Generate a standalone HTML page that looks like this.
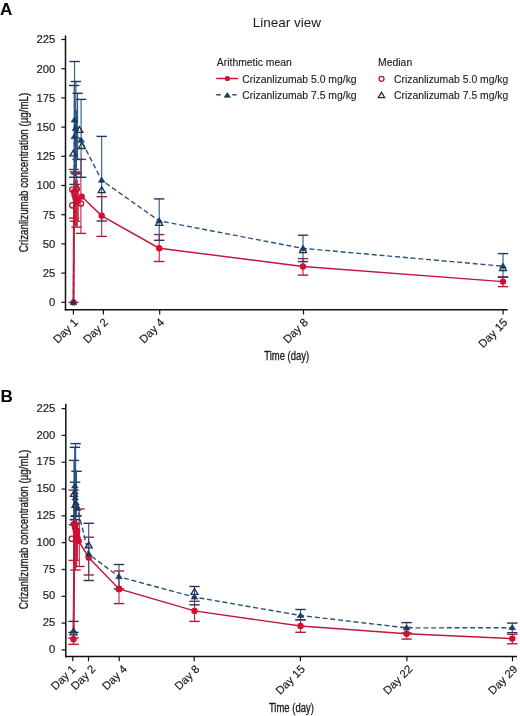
<!DOCTYPE html><html><head><meta charset="utf-8"><style>
html,body{margin:0;padding:0;background:#fff;width:520px;height:716px;overflow:hidden}
svg{display:block;will-change:transform}
text{font-family:"Liberation Sans",sans-serif;fill:#1c1a1b}
.tk{font-size:11.3px;stroke:#1c1a1b;stroke-width:0.18px}.lg{font-size:10.4px;stroke:#1c1a1b;stroke-width:0.12px}.ttl{font-size:13.5px}.pl{font-size:16px;font-weight:bold;fill:#000}
.cn{font-size:13px;stroke:#231f20;stroke-width:0.35px}
</style></head><body>
<svg width="520" height="716" viewBox="0 0 520 716">
<text transform="translate(0.1 15.0) scale(1.07 1)" class="pl">A</text>
<text transform="translate(0.6 401.7) scale(1.07 1)" class="pl">B</text>
<text x="286.9" y="27.1" text-anchor="middle" class="ttl">Linear view</text>
<text x="216.8" y="66.0" class="lg">Arithmetic mean</text>
<line x1="216.2" y1="78.5" x2="238.2" y2="78.5" stroke="#c0173a" stroke-width="1.5"/>
<circle cx="227.40" cy="78.50" r="2.6" fill="#d20f2f"/>
<text x="242.3" y="82.8" class="lg">Crizanlizumab 5.0 mg/kg</text>
<line x1="216.2" y1="94.8" x2="220.8" y2="94.8" stroke="#2b527e" stroke-width="1.5"/>
<line x1="232.2" y1="94.8" x2="236.6" y2="94.8" stroke="#2b527e" stroke-width="1.5"/>
<polygon points="227.30,92.46 230.44,97.30 224.17,97.30" fill="#173d66" stroke="#173d66" stroke-width="0.6" stroke-linejoin="round"/>
<text x="242.3" y="99.4" class="lg">Crizanlizumab 7.5 mg/kg</text>
<text x="378.1" y="66.0" class="lg">Median</text>
<circle cx="381.50" cy="78.80" r="2.5" fill="none" stroke="#a8183a" stroke-width="1.3"/>
<text x="394" y="82.8" class="lg">Crizanlizumab 5.0 mg/kg</text>
<polygon points="381.50,92.38 384.72,97.72 378.28,97.72" fill="none" stroke="#1c324a" stroke-width="1.3"/>
<text x="394" y="99.4" class="lg">Crizanlizumab 7.5 mg/kg</text>
<line x1="65.5" y1="35.5" x2="65.5" y2="310.45" stroke="#111" stroke-width="1.5"/><line x1="64.75" y1="309.7" x2="507.7" y2="309.7" stroke="#111" stroke-width="1.5"/><line x1="61.3" y1="302.30" x2="65.5" y2="302.30" stroke="#111" stroke-width="1.2"/><text x="55.4" y="306.20" text-anchor="end" class="tk">0</text><line x1="61.3" y1="273.10" x2="65.5" y2="273.10" stroke="#111" stroke-width="1.2"/><text x="55.4" y="277.00" text-anchor="end" class="tk">25</text><line x1="61.3" y1="243.90" x2="65.5" y2="243.90" stroke="#111" stroke-width="1.2"/><text x="55.4" y="247.80" text-anchor="end" class="tk">50</text><line x1="61.3" y1="214.70" x2="65.5" y2="214.70" stroke="#111" stroke-width="1.2"/><text x="55.4" y="218.60" text-anchor="end" class="tk">75</text><line x1="61.3" y1="185.50" x2="65.5" y2="185.50" stroke="#111" stroke-width="1.2"/><text x="55.4" y="189.40" text-anchor="end" class="tk">100</text><line x1="61.3" y1="156.30" x2="65.5" y2="156.30" stroke="#111" stroke-width="1.2"/><text x="55.4" y="160.20" text-anchor="end" class="tk">125</text><line x1="61.3" y1="127.10" x2="65.5" y2="127.10" stroke="#111" stroke-width="1.2"/><text x="55.4" y="131.00" text-anchor="end" class="tk">150</text><line x1="61.3" y1="97.90" x2="65.5" y2="97.90" stroke="#111" stroke-width="1.2"/><text x="55.4" y="101.80" text-anchor="end" class="tk">175</text><line x1="61.3" y1="68.70" x2="65.5" y2="68.70" stroke="#111" stroke-width="1.2"/><text x="55.4" y="72.60" text-anchor="end" class="tk">200</text><line x1="61.3" y1="39.50" x2="65.5" y2="39.50" stroke="#111" stroke-width="1.2"/><text x="55.4" y="43.40" text-anchor="end" class="tk">225</text><line x1="73.4" y1="309.7" x2="73.4" y2="314.5" stroke="#111" stroke-width="1.2"/><text x="78.60" y="323.10" text-anchor="end" class="tk" transform="rotate(-45 78.60 323.10)">Day 1</text><line x1="103.4" y1="309.7" x2="103.4" y2="314.5" stroke="#111" stroke-width="1.2"/><text x="108.60" y="323.10" text-anchor="end" class="tk" transform="rotate(-45 108.60 323.10)">Day 2</text><line x1="159.7" y1="309.7" x2="159.7" y2="314.5" stroke="#111" stroke-width="1.2"/><text x="164.90" y="323.10" text-anchor="end" class="tk" transform="rotate(-45 164.90 323.10)">Day 4</text><line x1="303.5" y1="309.7" x2="303.5" y2="314.5" stroke="#111" stroke-width="1.2"/><text x="308.70" y="323.10" text-anchor="end" class="tk" transform="rotate(-45 308.70 323.10)">Day 8</text><line x1="503.1" y1="309.7" x2="503.1" y2="314.5" stroke="#111" stroke-width="1.2"/><text x="508.30" y="323.10" text-anchor="end" class="tk" transform="rotate(-45 508.30 323.10)">Day 15</text>
<line x1="65.8" y1="403.8" x2="65.8" y2="657.25" stroke="#111" stroke-width="1.5"/><line x1="65.05" y1="656.5" x2="517.0" y2="656.5" stroke="#111" stroke-width="1.5"/><line x1="61.599999999999994" y1="649.90" x2="65.8" y2="649.90" stroke="#111" stroke-width="1.2"/><text x="55.4" y="653.00" text-anchor="end" class="tk">0</text><line x1="61.599999999999994" y1="623.09" x2="65.8" y2="623.09" stroke="#111" stroke-width="1.2"/><text x="55.4" y="626.19" text-anchor="end" class="tk">25</text><line x1="61.599999999999994" y1="596.28" x2="65.8" y2="596.28" stroke="#111" stroke-width="1.2"/><text x="55.4" y="599.38" text-anchor="end" class="tk">50</text><line x1="61.599999999999994" y1="569.47" x2="65.8" y2="569.47" stroke="#111" stroke-width="1.2"/><text x="55.4" y="572.57" text-anchor="end" class="tk">75</text><line x1="61.599999999999994" y1="542.66" x2="65.8" y2="542.66" stroke="#111" stroke-width="1.2"/><text x="55.4" y="545.76" text-anchor="end" class="tk">100</text><line x1="61.599999999999994" y1="515.85" x2="65.8" y2="515.85" stroke="#111" stroke-width="1.2"/><text x="55.4" y="518.95" text-anchor="end" class="tk">125</text><line x1="61.599999999999994" y1="489.04" x2="65.8" y2="489.04" stroke="#111" stroke-width="1.2"/><text x="55.4" y="492.14" text-anchor="end" class="tk">150</text><line x1="61.599999999999994" y1="462.23" x2="65.8" y2="462.23" stroke="#111" stroke-width="1.2"/><text x="55.4" y="465.33" text-anchor="end" class="tk">175</text><line x1="61.599999999999994" y1="435.42" x2="65.8" y2="435.42" stroke="#111" stroke-width="1.2"/><text x="55.4" y="438.52" text-anchor="end" class="tk">200</text><line x1="61.599999999999994" y1="408.61" x2="65.8" y2="408.61" stroke="#111" stroke-width="1.2"/><text x="55.4" y="411.71" text-anchor="end" class="tk">225</text><line x1="72.8" y1="656.5" x2="72.8" y2="661.3" stroke="#111" stroke-width="1.2"/><text x="76.50" y="669.90" text-anchor="end" class="tk" transform="rotate(-45 76.50 669.90)">Day 1</text><line x1="88.5" y1="656.5" x2="88.5" y2="661.3" stroke="#111" stroke-width="1.2"/><text x="96.30" y="669.90" text-anchor="end" class="tk" transform="rotate(-45 96.30 669.90)">Day 2</text><line x1="119.2" y1="656.5" x2="119.2" y2="661.3" stroke="#111" stroke-width="1.2"/><text x="127.70" y="669.90" text-anchor="end" class="tk" transform="rotate(-45 127.70 669.90)">Day 4</text><line x1="194.2" y1="656.5" x2="194.2" y2="661.3" stroke="#111" stroke-width="1.2"/><text x="200.10" y="669.90" text-anchor="end" class="tk" transform="rotate(-45 200.10 669.90)">Day 8</text><line x1="300.4" y1="656.5" x2="300.4" y2="661.3" stroke="#111" stroke-width="1.2"/><text x="305.60" y="669.90" text-anchor="end" class="tk" transform="rotate(-45 305.60 669.90)">Day 15</text><line x1="406.9" y1="656.5" x2="406.9" y2="661.3" stroke="#111" stroke-width="1.2"/><text x="413.10" y="669.90" text-anchor="end" class="tk" transform="rotate(-45 413.10 669.90)">Day 22</text><line x1="512.5" y1="656.5" x2="512.5" y2="661.3" stroke="#111" stroke-width="1.2"/><text x="518.20" y="669.90" text-anchor="end" class="tk" transform="rotate(-45 518.20 669.90)">Day 29</text>
<text transform="translate(27.6 172.5) rotate(-90) scale(0.75 1)" text-anchor="middle" class="cn">Crizanlizumab concentration (µg/mL)</text>
<text transform="translate(27.6 529.5) rotate(-90) scale(0.75 1)" text-anchor="middle" class="cn">Crizanlizumab concentration (µg/mL)</text>
<text transform="translate(286.7 360.3) scale(0.73 1)" text-anchor="middle" class="cn">Time (day)</text>
<text transform="translate(291.4 711.7) scale(0.73 1)" text-anchor="middle" class="cn">Time (day)</text>
<line x1="74.00" y1="169.50" x2="74.00" y2="218.10" stroke="#cc1f3c" stroke-width="1.1"/><line x1="68.80" y1="169.50" x2="79.20" y2="169.50" stroke="#b01a3a" stroke-width="1.4"/><line x1="68.80" y1="218.10" x2="79.20" y2="218.10" stroke="#b01a3a" stroke-width="1.4"/>
<line x1="75.00" y1="171.90" x2="75.00" y2="221.20" stroke="#cc1f3c" stroke-width="1.1"/><line x1="69.80" y1="171.90" x2="80.20" y2="171.90" stroke="#b01a3a" stroke-width="1.4"/><line x1="69.80" y1="221.20" x2="80.20" y2="221.20" stroke="#b01a3a" stroke-width="1.4"/>
<line x1="76.60" y1="174.00" x2="76.60" y2="227.10" stroke="#cc1f3c" stroke-width="1.1"/><line x1="71.40" y1="174.00" x2="81.80" y2="174.00" stroke="#b01a3a" stroke-width="1.4"/><line x1="71.40" y1="227.10" x2="81.80" y2="227.10" stroke="#b01a3a" stroke-width="1.4"/>
<line x1="80.90" y1="159.40" x2="80.90" y2="233.40" stroke="#cc1f3c" stroke-width="1.1"/><line x1="75.70" y1="159.40" x2="86.10" y2="159.40" stroke="#b01a3a" stroke-width="1.4"/><line x1="75.70" y1="233.40" x2="86.10" y2="233.40" stroke="#b01a3a" stroke-width="1.4"/>
<line x1="101.70" y1="196.70" x2="101.70" y2="236.40" stroke="#cc1f3c" stroke-width="1.1"/><line x1="96.50" y1="196.70" x2="106.90" y2="196.70" stroke="#b01a3a" stroke-width="1.4"/><line x1="96.50" y1="236.40" x2="106.90" y2="236.40" stroke="#b01a3a" stroke-width="1.4"/>
<line x1="159.20" y1="234.60" x2="159.20" y2="261.50" stroke="#cc1f3c" stroke-width="1.1"/><line x1="154.00" y1="234.60" x2="164.40" y2="234.60" stroke="#b01a3a" stroke-width="1.4"/><line x1="154.00" y1="261.50" x2="164.40" y2="261.50" stroke="#b01a3a" stroke-width="1.4"/>
<line x1="303.00" y1="258.60" x2="303.00" y2="275.10" stroke="#cc1f3c" stroke-width="1.1"/><line x1="297.80" y1="258.60" x2="308.20" y2="258.60" stroke="#b01a3a" stroke-width="1.4"/><line x1="297.80" y1="275.10" x2="308.20" y2="275.10" stroke="#b01a3a" stroke-width="1.4"/>
<line x1="503.00" y1="277.10" x2="503.00" y2="286.60" stroke="#cc1f3c" stroke-width="1.1"/><line x1="497.80" y1="277.10" x2="508.20" y2="277.10" stroke="#b01a3a" stroke-width="1.4"/><line x1="497.80" y1="286.60" x2="508.20" y2="286.60" stroke="#b01a3a" stroke-width="1.4"/>
<line x1="74.60" y1="61.50" x2="74.60" y2="184.40" stroke="#2c5585" stroke-width="1.1"/><line x1="69.40" y1="61.50" x2="79.80" y2="61.50" stroke="#20385a" stroke-width="1.4"/><line x1="69.40" y1="184.40" x2="79.80" y2="184.40" stroke="#20385a" stroke-width="1.4"/>
<line x1="75.90" y1="81.50" x2="75.90" y2="173.10" stroke="#2c5585" stroke-width="1.1"/><line x1="70.70" y1="81.50" x2="81.10" y2="81.50" stroke="#20385a" stroke-width="1.4"/><line x1="70.70" y1="173.10" x2="81.10" y2="173.10" stroke="#20385a" stroke-width="1.4"/>
<line x1="74.20" y1="85.50" x2="74.20" y2="177.30" stroke="#2c5585" stroke-width="1.1"/><line x1="69.00" y1="85.50" x2="79.40" y2="85.50" stroke="#20385a" stroke-width="1.4"/><line x1="69.00" y1="177.30" x2="79.40" y2="177.30" stroke="#20385a" stroke-width="1.4"/>
<line x1="77.60" y1="93.30" x2="77.60" y2="159.40" stroke="#2c5585" stroke-width="1.1"/><line x1="72.40" y1="93.30" x2="82.80" y2="93.30" stroke="#20385a" stroke-width="1.4"/><line x1="72.40" y1="159.40" x2="82.80" y2="159.40" stroke="#20385a" stroke-width="1.4"/>
<line x1="81.10" y1="99.40" x2="81.10" y2="177.30" stroke="#2c5585" stroke-width="1.1"/><line x1="75.90" y1="99.40" x2="86.30" y2="99.40" stroke="#20385a" stroke-width="1.4"/><line x1="75.90" y1="177.30" x2="86.30" y2="177.30" stroke="#20385a" stroke-width="1.4"/>
<line x1="101.70" y1="136.40" x2="101.70" y2="221.00" stroke="#2c5585" stroke-width="1.1"/><line x1="96.50" y1="136.40" x2="106.90" y2="136.40" stroke="#20385a" stroke-width="1.4"/><line x1="96.50" y1="221.00" x2="106.90" y2="221.00" stroke="#20385a" stroke-width="1.4"/>
<line x1="159.20" y1="198.90" x2="159.20" y2="240.30" stroke="#2c5585" stroke-width="1.1"/><line x1="154.00" y1="198.90" x2="164.40" y2="198.90" stroke="#20385a" stroke-width="1.4"/><line x1="154.00" y1="240.30" x2="164.40" y2="240.30" stroke="#20385a" stroke-width="1.4"/>
<line x1="303.00" y1="235.20" x2="303.00" y2="261.60" stroke="#2c5585" stroke-width="1.1"/><line x1="297.80" y1="235.20" x2="308.20" y2="235.20" stroke="#20385a" stroke-width="1.4"/><line x1="297.80" y1="261.60" x2="308.20" y2="261.60" stroke="#20385a" stroke-width="1.4"/>
<line x1="503.00" y1="253.60" x2="503.00" y2="277.10" stroke="#2c5585" stroke-width="1.1"/><line x1="497.80" y1="253.60" x2="508.20" y2="253.60" stroke="#20385a" stroke-width="1.4"/><line x1="497.80" y1="277.10" x2="508.20" y2="277.10" stroke="#20385a" stroke-width="1.4"/>
<line x1="68.30" y1="302.40" x2="78.70" y2="302.40" stroke="#b01a3a" stroke-width="1.3"/>
<line x1="75.20" y1="100.00" x2="75.20" y2="175.00" stroke="#2c5585" stroke-width="1.1"/>
<line x1="76.40" y1="110.00" x2="76.40" y2="170.00" stroke="#2c5585" stroke-width="1.1"/>
<line x1="75.60" y1="120.00" x2="75.60" y2="176.00" stroke="#2c5585" stroke-width="1.1"/>
<line x1="75.50" y1="180.00" x2="75.50" y2="226.00" stroke="#cc1f3c" stroke-width="1.1"/>
<line x1="77.30" y1="180.00" x2="77.30" y2="226.00" stroke="#cc1f3c" stroke-width="1.1"/>
<line x1="78.20" y1="185.00" x2="78.20" y2="222.00" stroke="#cc1f3c" stroke-width="1.1"/>
<polyline points="73.50,302.40 74.40,120.10 75.50,128.50 74.20,136.80 77.90,137.00 81.10,140.20 101.70,180.30 159.20,220.80 303.00,248.40 503.00,266.20" fill="none" stroke="#2b527e" stroke-width="1.4" stroke-dasharray="5 2.8"/>
<polyline points="73.50,302.40 74.00,191.80 74.60,195.20 75.60,198.60 77.40,201.60 81.70,196.60 101.70,215.80 159.20,248.20 303.00,266.50 503.00,281.60" fill="none" stroke="#c0173a" stroke-width="1.45"/>
<polyline points="73.50,302.40 74.00,191.80" fill="none" stroke="#c0173a" stroke-width="1.8"/>
<circle cx="72.30" cy="189.50" r="2.7" fill="none" stroke="#a8183a" stroke-width="1.3"/>
<circle cx="76.70" cy="189.00" r="2.7" fill="none" stroke="#a8183a" stroke-width="1.3"/>
<circle cx="72.30" cy="205.30" r="2.7" fill="none" stroke="#a8183a" stroke-width="1.3"/>
<circle cx="81.00" cy="203.50" r="2.7" fill="none" stroke="#a8183a" stroke-width="1.3"/>
<circle cx="74.00" cy="191.80" r="3.2" fill="#d20f2f"/>
<circle cx="74.60" cy="195.20" r="3.2" fill="#d20f2f"/>
<circle cx="75.60" cy="198.60" r="3.2" fill="#d20f2f"/>
<circle cx="77.40" cy="201.60" r="3.2" fill="#d20f2f"/>
<circle cx="81.70" cy="196.60" r="3.2" fill="#d20f2f"/>
<circle cx="101.70" cy="215.80" r="3.2" fill="#d20f2f"/>
<circle cx="159.20" cy="248.20" r="3.2" fill="#d20f2f"/>
<circle cx="303.00" cy="266.50" r="3.2" fill="#d20f2f"/>
<circle cx="503.00" cy="281.60" r="3.2" fill="#d20f2f"/>
<circle cx="73.50" cy="302.40" r="3.2" fill="#d20f2f"/>
<polygon points="79.40,126.60 82.90,132.40 75.90,132.40" fill="none" stroke="#1c324a" stroke-width="1.3"/>
<polygon points="81.80,142.70 85.30,148.50 78.30,148.50" fill="none" stroke="#1c324a" stroke-width="1.3"/>
<polygon points="73.40,150.10 76.90,155.90 69.90,155.90" fill="none" stroke="#1c324a" stroke-width="1.3"/>
<polygon points="101.70,186.80 105.20,192.60 98.20,192.60" fill="none" stroke="#1c324a" stroke-width="1.3"/>
<polygon points="159.20,219.50 162.70,225.30 155.70,225.30" fill="none" stroke="#1c324a" stroke-width="1.3"/>
<polygon points="303.00,246.80 306.50,252.60 299.50,252.60" fill="none" stroke="#1c324a" stroke-width="1.3"/>
<polygon points="503.00,264.90 506.50,270.70 499.50,270.70" fill="none" stroke="#1c324a" stroke-width="1.3"/>
<polygon points="73.50,299.30 76.80,304.40 70.20,304.40" fill="#173d66" stroke="#173d66" stroke-width="0.6" stroke-linejoin="round"/>
<polygon points="74.40,117.00 77.70,122.10 71.10,122.10" fill="#173d66" stroke="#173d66" stroke-width="0.6" stroke-linejoin="round"/>
<polygon points="75.50,125.40 78.80,130.50 72.20,130.50" fill="#173d66" stroke="#173d66" stroke-width="0.6" stroke-linejoin="round"/>
<polygon points="74.20,133.70 77.50,138.80 70.90,138.80" fill="#173d66" stroke="#173d66" stroke-width="0.6" stroke-linejoin="round"/>
<polygon points="81.10,137.10 84.40,142.20 77.80,142.20" fill="#173d66" stroke="#173d66" stroke-width="0.6" stroke-linejoin="round"/>
<polygon points="101.70,177.20 105.00,182.30 98.40,182.30" fill="#173d66" stroke="#173d66" stroke-width="0.6" stroke-linejoin="round"/>
<polygon points="159.20,217.70 162.50,222.80 155.90,222.80" fill="#173d66" stroke="#173d66" stroke-width="0.6" stroke-linejoin="round"/>
<polygon points="303.00,245.30 306.30,250.40 299.70,250.40" fill="#173d66" stroke="#173d66" stroke-width="0.6" stroke-linejoin="round"/>
<polygon points="503.00,263.10 506.30,268.20 499.70,268.20" fill="#173d66" stroke="#173d66" stroke-width="0.6" stroke-linejoin="round"/>
<line x1="73.70" y1="490.10" x2="73.70" y2="560.40" stroke="#cc1f3c" stroke-width="1.1"/><line x1="68.50" y1="490.10" x2="78.90" y2="490.10" stroke="#b01a3a" stroke-width="1.4"/><line x1="68.50" y1="560.40" x2="78.90" y2="560.40" stroke="#b01a3a" stroke-width="1.4"/>
<line x1="79.30" y1="509.00" x2="79.30" y2="566.50" stroke="#cc1f3c" stroke-width="1.1"/><line x1="74.10" y1="509.00" x2="84.50" y2="509.00" stroke="#b01a3a" stroke-width="1.4"/><line x1="74.10" y1="566.50" x2="84.50" y2="566.50" stroke="#b01a3a" stroke-width="1.4"/>
<line x1="75.60" y1="523.00" x2="75.60" y2="570.00" stroke="#cc1f3c" stroke-width="1.1"/><line x1="70.40" y1="523.00" x2="80.80" y2="523.00" stroke="#b01a3a" stroke-width="1.4"/><line x1="70.40" y1="570.00" x2="80.80" y2="570.00" stroke="#b01a3a" stroke-width="1.4"/>
<line x1="73.50" y1="638.00" x2="73.50" y2="644.30" stroke="#cc1f3c" stroke-width="1.1"/><line x1="68.30" y1="638.00" x2="78.70" y2="638.00" stroke="#b01a3a" stroke-width="1.4"/><line x1="68.30" y1="644.30" x2="78.70" y2="644.30" stroke="#b01a3a" stroke-width="1.4"/>
<line x1="88.70" y1="537.20" x2="88.70" y2="575.00" stroke="#cc1f3c" stroke-width="1.1"/><line x1="83.50" y1="537.20" x2="93.90" y2="537.20" stroke="#b01a3a" stroke-width="1.4"/><line x1="83.50" y1="575.00" x2="93.90" y2="575.00" stroke="#b01a3a" stroke-width="1.4"/>
<line x1="119.00" y1="571.00" x2="119.00" y2="603.60" stroke="#cc1f3c" stroke-width="1.1"/><line x1="113.80" y1="571.00" x2="124.20" y2="571.00" stroke="#b01a3a" stroke-width="1.4"/><line x1="113.80" y1="603.60" x2="124.20" y2="603.60" stroke="#b01a3a" stroke-width="1.4"/>
<line x1="194.50" y1="601.30" x2="194.50" y2="621.40" stroke="#cc1f3c" stroke-width="1.1"/><line x1="189.30" y1="601.30" x2="199.70" y2="601.30" stroke="#b01a3a" stroke-width="1.4"/><line x1="189.30" y1="621.40" x2="199.70" y2="621.40" stroke="#b01a3a" stroke-width="1.4"/>
<line x1="300.50" y1="619.80" x2="300.50" y2="632.30" stroke="#cc1f3c" stroke-width="1.1"/><line x1="295.30" y1="619.80" x2="305.70" y2="619.80" stroke="#b01a3a" stroke-width="1.4"/><line x1="295.30" y1="632.30" x2="305.70" y2="632.30" stroke="#b01a3a" stroke-width="1.4"/>
<line x1="406.60" y1="627.40" x2="406.60" y2="639.10" stroke="#cc1f3c" stroke-width="1.1"/><line x1="401.40" y1="627.40" x2="411.80" y2="627.40" stroke="#b01a3a" stroke-width="1.4"/><line x1="401.40" y1="639.10" x2="411.80" y2="639.10" stroke="#b01a3a" stroke-width="1.4"/>
<line x1="512.30" y1="634.40" x2="512.30" y2="643.80" stroke="#cc1f3c" stroke-width="1.1"/><line x1="507.10" y1="634.40" x2="517.50" y2="634.40" stroke="#b01a3a" stroke-width="1.4"/><line x1="507.10" y1="643.80" x2="517.50" y2="643.80" stroke="#b01a3a" stroke-width="1.4"/>
<line x1="75.60" y1="443.60" x2="75.60" y2="516.30" stroke="#2c5585" stroke-width="1.1"/><line x1="70.40" y1="443.60" x2="80.80" y2="443.60" stroke="#20385a" stroke-width="1.4"/><line x1="70.40" y1="516.30" x2="80.80" y2="516.30" stroke="#20385a" stroke-width="1.4"/>
<line x1="74.90" y1="447.30" x2="74.90" y2="519.70" stroke="#2c5585" stroke-width="1.1"/><line x1="69.70" y1="447.30" x2="80.10" y2="447.30" stroke="#20385a" stroke-width="1.4"/><line x1="69.70" y1="519.70" x2="80.10" y2="519.70" stroke="#20385a" stroke-width="1.4"/>
<line x1="74.00" y1="460.40" x2="74.00" y2="524.70" stroke="#2c5585" stroke-width="1.1"/><line x1="68.80" y1="460.40" x2="79.20" y2="460.40" stroke="#20385a" stroke-width="1.4"/><line x1="68.80" y1="524.70" x2="79.20" y2="524.70" stroke="#20385a" stroke-width="1.4"/>
<line x1="76.50" y1="471.30" x2="76.50" y2="515.70" stroke="#2c5585" stroke-width="1.1"/><line x1="71.30" y1="471.30" x2="81.70" y2="471.30" stroke="#20385a" stroke-width="1.4"/><line x1="71.30" y1="515.70" x2="81.70" y2="515.70" stroke="#20385a" stroke-width="1.4"/>
<line x1="75.10" y1="482.20" x2="75.10" y2="519.50" stroke="#2c5585" stroke-width="1.1"/><line x1="69.90" y1="482.20" x2="80.30" y2="482.20" stroke="#20385a" stroke-width="1.4"/><line x1="69.90" y1="519.50" x2="80.30" y2="519.50" stroke="#20385a" stroke-width="1.4"/>
<line x1="88.70" y1="523.30" x2="88.70" y2="580.50" stroke="#2c5585" stroke-width="1.1"/><line x1="83.50" y1="523.30" x2="93.90" y2="523.30" stroke="#20385a" stroke-width="1.4"/><line x1="83.50" y1="580.50" x2="93.90" y2="580.50" stroke="#20385a" stroke-width="1.4"/>
<line x1="119.00" y1="564.50" x2="119.00" y2="589.00" stroke="#2c5585" stroke-width="1.1"/><line x1="113.80" y1="564.50" x2="124.20" y2="564.50" stroke="#20385a" stroke-width="1.4"/><line x1="113.80" y1="589.00" x2="124.20" y2="589.00" stroke="#20385a" stroke-width="1.4"/>
<line x1="194.50" y1="586.50" x2="194.50" y2="604.80" stroke="#2c5585" stroke-width="1.1"/><line x1="189.30" y1="586.50" x2="199.70" y2="586.50" stroke="#20385a" stroke-width="1.4"/><line x1="189.30" y1="604.80" x2="199.70" y2="604.80" stroke="#20385a" stroke-width="1.4"/>
<line x1="300.50" y1="609.50" x2="300.50" y2="619.80" stroke="#2c5585" stroke-width="1.1"/><line x1="295.30" y1="609.50" x2="305.70" y2="609.50" stroke="#20385a" stroke-width="1.4"/><line x1="295.30" y1="619.80" x2="305.70" y2="619.80" stroke="#20385a" stroke-width="1.4"/>
<line x1="406.60" y1="622.60" x2="406.60" y2="633.00" stroke="#2c5585" stroke-width="1.1"/><line x1="401.40" y1="622.60" x2="411.80" y2="622.60" stroke="#20385a" stroke-width="1.4"/><line x1="401.40" y1="633.00" x2="411.80" y2="633.00" stroke="#20385a" stroke-width="1.4"/>
<line x1="512.30" y1="623.10" x2="512.30" y2="632.70" stroke="#2c5585" stroke-width="1.1"/><line x1="507.10" y1="623.10" x2="517.50" y2="623.10" stroke="#20385a" stroke-width="1.4"/><line x1="507.10" y1="632.70" x2="517.50" y2="632.70" stroke="#20385a" stroke-width="1.4"/>
<line x1="73.50" y1="621.40" x2="73.50" y2="632.40" stroke="#2c5585" stroke-width="1.1"/><line x1="68.30" y1="621.40" x2="78.70" y2="621.40" stroke="#20385a" stroke-width="1.4"/><line x1="68.30" y1="632.40" x2="78.70" y2="632.40" stroke="#20385a" stroke-width="1.4"/>
<line x1="75.30" y1="455.00" x2="75.30" y2="520.00" stroke="#2c5585" stroke-width="1.1"/>
<line x1="74.50" y1="465.00" x2="74.50" y2="522.00" stroke="#2c5585" stroke-width="1.1"/>
<line x1="76.00" y1="470.00" x2="76.00" y2="518.00" stroke="#2c5585" stroke-width="1.1"/>
<line x1="74.90" y1="447.00" x2="74.90" y2="520.00" stroke="#2c5585" stroke-width="1.1"/>
<line x1="74.60" y1="523.00" x2="74.60" y2="570.00" stroke="#cc1f3c" stroke-width="1.1"/>
<line x1="76.60" y1="523.00" x2="76.60" y2="566.50" stroke="#cc1f3c" stroke-width="1.1"/>
<line x1="77.40" y1="530.00" x2="77.40" y2="560.40" stroke="#cc1f3c" stroke-width="1.1"/>
<line x1="73.80" y1="525.00" x2="73.80" y2="566.00" stroke="#cc1f3c" stroke-width="1.1"/>
<line x1="75.10" y1="520.00" x2="75.10" y2="570.00" stroke="#cc1f3c" stroke-width="1.1"/>
<line x1="76.10" y1="520.00" x2="76.10" y2="568.00" stroke="#cc1f3c" stroke-width="1.1"/>
<polyline points="73.50,630.70 74.80,486.00 75.00,492.00 75.20,498.00 76.00,503.00 77.50,508.50 88.70,554.00 119.00,576.80 194.50,597.10 300.50,615.50 406.60,627.90 512.30,627.70" fill="none" stroke="#2b527e" stroke-width="1.4" stroke-dasharray="5 2.8"/>
<polyline points="73.50,639.20 74.30,524.50 75.00,527.50 75.80,531.00 76.60,534.50 77.50,538.00 78.60,541.00 88.70,557.50 119.00,588.90 194.50,610.90 300.50,626.00 406.60,633.70 512.30,638.60" fill="none" stroke="#c0173a" stroke-width="1.45"/>
<polyline points="73.50,639.20 74.30,524.50" fill="none" stroke="#c0173a" stroke-width="1.8"/>
<circle cx="71.80" cy="538.80" r="2.7" fill="none" stroke="#a8183a" stroke-width="1.3"/>
<circle cx="74.50" cy="524.00" r="2.7" fill="none" stroke="#a8183a" stroke-width="1.3"/>
<circle cx="77.00" cy="531.00" r="2.7" fill="none" stroke="#a8183a" stroke-width="1.3"/>
<circle cx="119.00" cy="588.90" r="2.7" fill="none" stroke="#a8183a" stroke-width="1.3"/>
<circle cx="73.50" cy="639.20" r="3.2" fill="#d20f2f"/>
<circle cx="74.30" cy="524.50" r="3.2" fill="#d20f2f"/>
<circle cx="75.00" cy="527.50" r="3.2" fill="#d20f2f"/>
<circle cx="75.80" cy="531.00" r="3.2" fill="#d20f2f"/>
<circle cx="76.60" cy="534.50" r="3.2" fill="#d20f2f"/>
<circle cx="77.50" cy="538.00" r="3.2" fill="#d20f2f"/>
<circle cx="78.60" cy="541.00" r="3.2" fill="#d20f2f"/>
<circle cx="88.70" cy="557.50" r="3.2" fill="#d20f2f"/>
<circle cx="119.00" cy="588.90" r="3.2" fill="#d20f2f"/>
<circle cx="194.50" cy="610.90" r="3.2" fill="#d20f2f"/>
<circle cx="300.50" cy="626.00" r="3.2" fill="#d20f2f"/>
<circle cx="406.60" cy="633.70" r="3.2" fill="#d20f2f"/>
<circle cx="512.30" cy="638.60" r="3.2" fill="#d20f2f"/>
<polygon points="74.00,490.50 77.50,496.30 70.50,496.30" fill="none" stroke="#1c324a" stroke-width="1.3"/>
<polygon points="75.50,501.50 79.00,507.30 72.00,507.30" fill="none" stroke="#1c324a" stroke-width="1.3"/>
<polygon points="73.50,629.00 77.00,634.80 70.00,634.80" fill="none" stroke="#1c324a" stroke-width="1.3"/>
<polygon points="88.70,542.10 92.20,547.90 85.20,547.90" fill="none" stroke="#1c324a" stroke-width="1.3"/>
<polygon points="194.50,588.60 198.00,594.40 191.00,594.40" fill="none" stroke="#1c324a" stroke-width="1.3"/>
<polygon points="73.50,627.60 76.80,632.70 70.20,632.70" fill="#173d66" stroke="#173d66" stroke-width="0.6" stroke-linejoin="round"/>
<polygon points="74.80,482.90 78.10,488.00 71.50,488.00" fill="#173d66" stroke="#173d66" stroke-width="0.6" stroke-linejoin="round"/>
<polygon points="75.00,488.90 78.30,494.00 71.70,494.00" fill="#173d66" stroke="#173d66" stroke-width="0.6" stroke-linejoin="round"/>
<polygon points="75.20,494.90 78.50,500.00 71.90,500.00" fill="#173d66" stroke="#173d66" stroke-width="0.6" stroke-linejoin="round"/>
<polygon points="76.00,499.90 79.30,505.00 72.70,505.00" fill="#173d66" stroke="#173d66" stroke-width="0.6" stroke-linejoin="round"/>
<polygon points="77.50,505.40 80.80,510.50 74.20,510.50" fill="#173d66" stroke="#173d66" stroke-width="0.6" stroke-linejoin="round"/>
<polygon points="88.70,550.90 92.00,556.00 85.40,556.00" fill="#173d66" stroke="#173d66" stroke-width="0.6" stroke-linejoin="round"/>
<polygon points="119.00,573.70 122.30,578.80 115.70,578.80" fill="#173d66" stroke="#173d66" stroke-width="0.6" stroke-linejoin="round"/>
<polygon points="194.50,594.00 197.80,599.10 191.20,599.10" fill="#173d66" stroke="#173d66" stroke-width="0.6" stroke-linejoin="round"/>
<polygon points="300.50,612.40 303.80,617.50 297.20,617.50" fill="#173d66" stroke="#173d66" stroke-width="0.6" stroke-linejoin="round"/>
<polygon points="406.60,624.80 409.90,629.90 403.30,629.90" fill="#173d66" stroke="#173d66" stroke-width="0.6" stroke-linejoin="round"/>
<polygon points="512.30,624.60 515.60,629.70 509.00,629.70" fill="#173d66" stroke="#173d66" stroke-width="0.6" stroke-linejoin="round"/>
</svg></body></html>
